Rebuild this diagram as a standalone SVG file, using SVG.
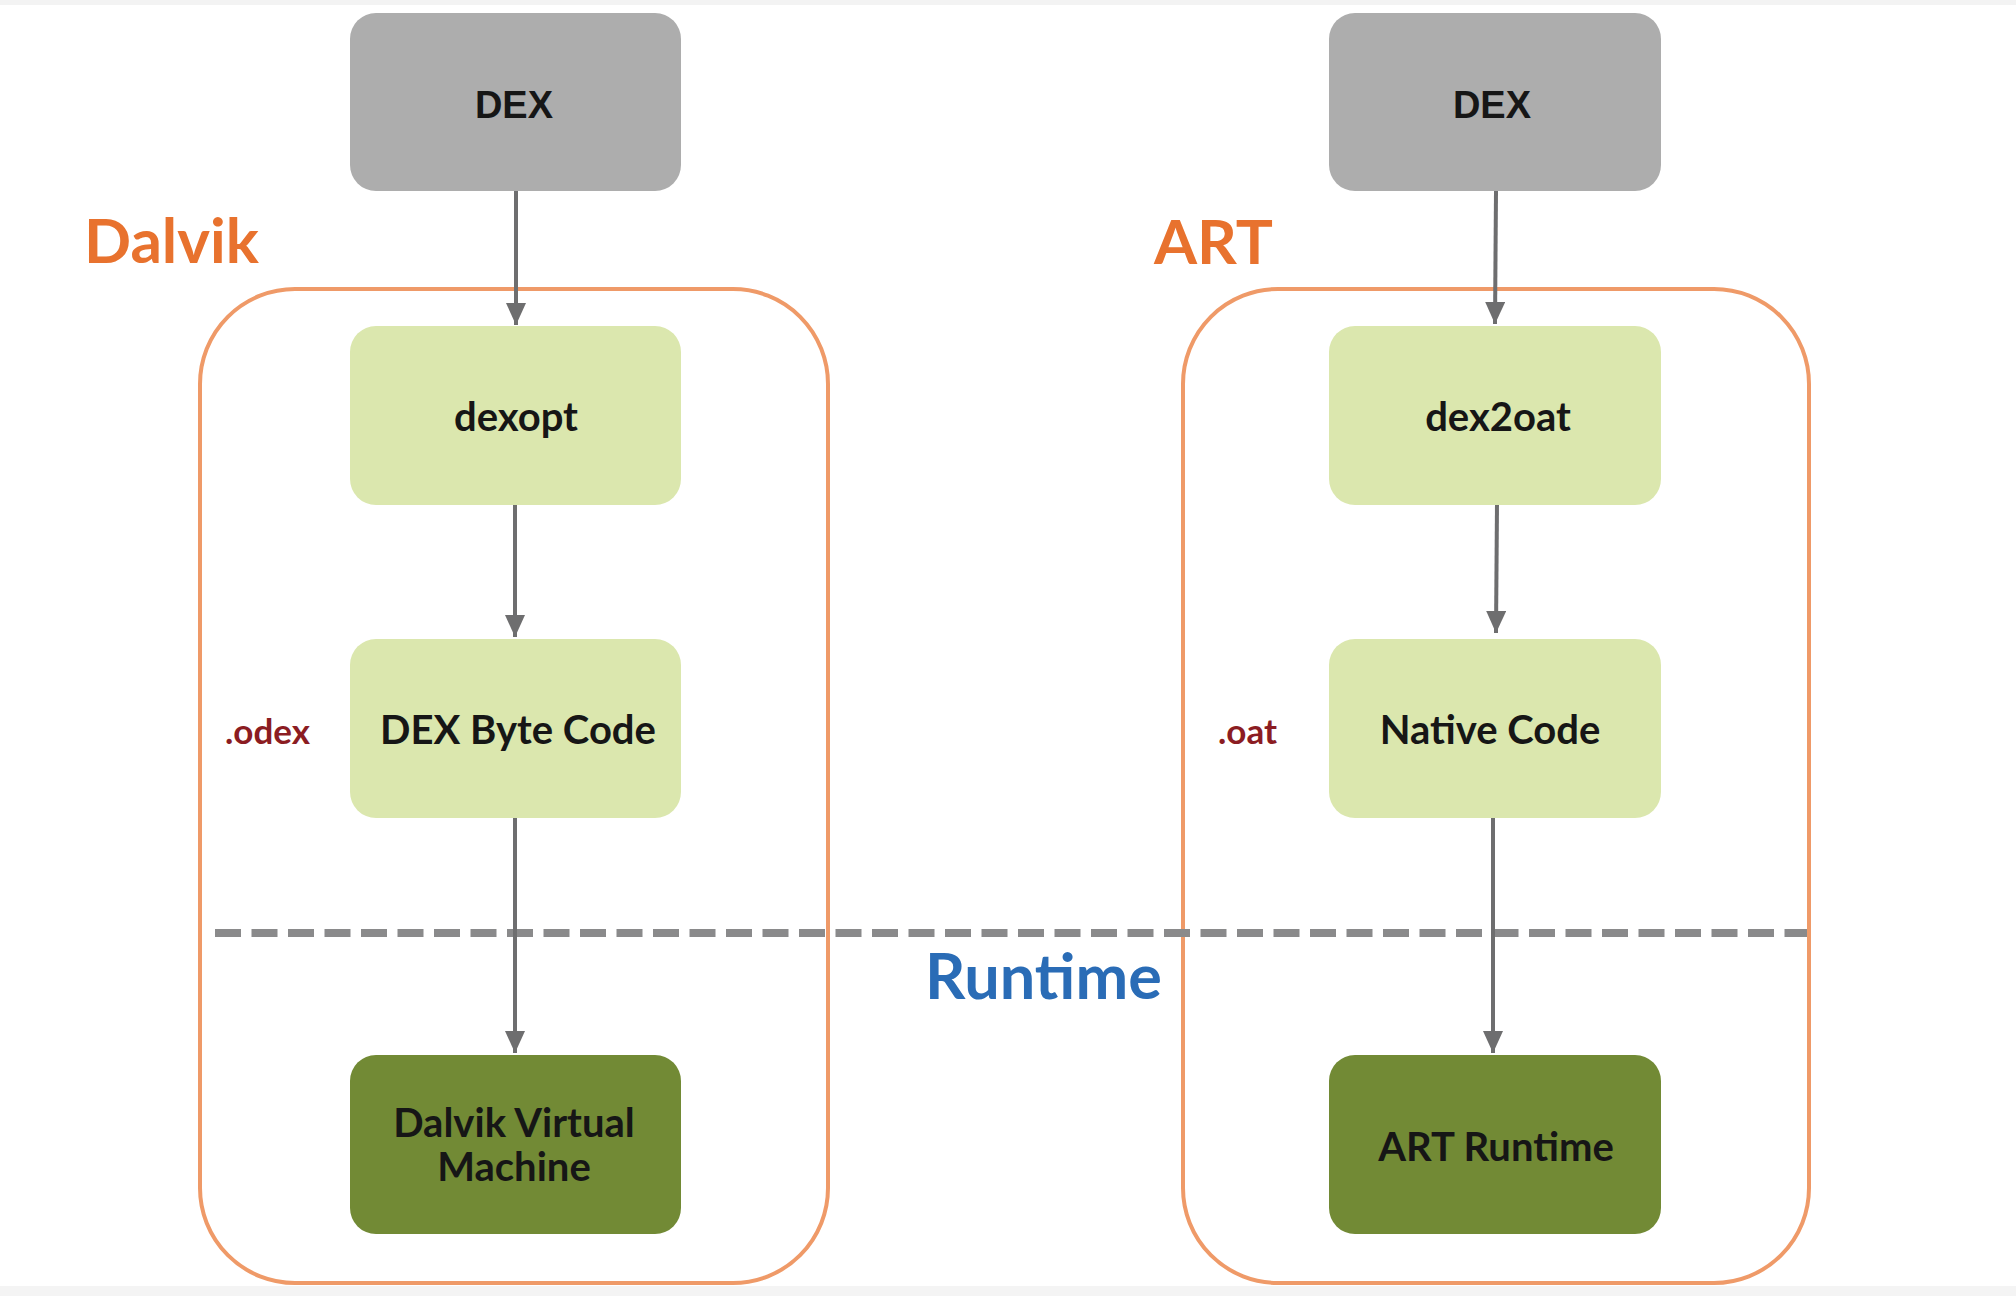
<svg xmlns="http://www.w3.org/2000/svg" width="2016" height="1296" viewBox="0 0 2016 1296">
  <defs>
    <marker id="arrow" viewBox="0 0 22 20" refX="22" refY="10" markerWidth="22" markerHeight="20" markerUnits="userSpaceOnUse" orient="auto">
      <path d="M0,0 L22,10 L0,20 Z" fill="#6e6e6f"/>
    </marker>
    <style>
      .frame { fill: none; stroke: #ef9a68; stroke-width: 4; }
      .src { fill: #adadad; }
      .step { fill: #dbe7ae; }
      .run { fill: #728a35; }
      .lbl { font-family: Lato, "Open Sans", sans-serif; font-weight: 700; font-size: 40px; fill: #161616; text-anchor: middle; }
      .dex { font-family: "Liberation Sans", Arial, sans-serif; font-weight: 700; font-size: 38px; fill: #161616; text-anchor: middle; }
      .ext { font-family: Lato, "Open Sans", sans-serif; font-weight: 700; font-size: 35px; fill: #8b1c22; }
      .title { font-family: Lato, "Open Sans", sans-serif; font-weight: 700; font-size: 62px; fill: #e8722e; }
      .runtime { font-family: Lato, "Open Sans", sans-serif; font-weight: 700; font-size: 63px; fill: #2a6cb6; }
      .conn { stroke: #6e6e6f; stroke-width: 4; fill: none; }
      .divider { stroke: #8a8a8b; stroke-width: 8; stroke-dasharray: 26 10.5; fill: none; }
    </style>
  </defs>

  <rect x="0" y="0" width="2016" height="1296" fill="#ffffff"/>
  <rect x="0" y="0" width="2016" height="5" fill="#f3f3f3"/>
  <rect x="0" y="1286" width="2016" height="10" fill="#f4f4f4"/>

  <!-- runtime containers -->
  <g id="dalvik-frame">
    <rect class="frame" x="200" y="289" width="628" height="994" rx="95" ry="95"/>
    <text class="title" x="84" y="263">Dalvik</text>
  </g>
  <g id="art-frame">
    <rect class="frame" x="1183" y="289" width="626" height="994" rx="95" ry="95"/>
    <text class="title" x="1154" y="264">ART</text>
  </g>

  <!-- boundary between compile time and runtime -->
  <g id="runtime-divider">
    <line class="divider" x1="215" y1="933" x2="1807" y2="933"/>
    <text class="runtime" x="925" y="999">Runtime</text>
  </g>

  <g id="connectors">
    <line class="conn" x1="516" y1="191" x2="516" y2="325" marker-end="url(#arrow)"/>
    <line class="conn" x1="515" y1="505" x2="515" y2="637" marker-end="url(#arrow)"/>
    <line class="conn" x1="515" y1="818" x2="515" y2="1053" marker-end="url(#arrow)"/>
    <line class="conn" x1="1496" y1="191" x2="1495" y2="324" marker-end="url(#arrow)"/>
    <line class="conn" x1="1497" y1="503" x2="1496" y2="633" marker-end="url(#arrow)"/>
    <line class="conn" x1="1493" y1="818" x2="1493" y2="1053" marker-end="url(#arrow)"/>
  </g>

  <!-- Dalvik pipeline -->
  <g id="dalvik-dex">
    <rect class="src" x="350" y="13" width="331" height="178" rx="26"/>
    <text class="dex" x="514" y="118">DEX</text>
  </g>
  <g id="dexopt">
    <rect class="step" x="350" y="326" width="331" height="179" rx="26"/>
    <text class="lbl" x="516" y="431">dexopt</text>
  </g>
  <g id="dex-byte-code">
    <rect class="step" x="350" y="639" width="331" height="179" rx="26"/>
    <text class="lbl" x="518" y="744">DEX Byte Code</text>
    <text class="ext" x="225" y="744">.odex</text>
  </g>
  <g id="dalvik-vm">
    <rect class="run" x="350" y="1055" width="331" height="179" rx="26"/>
    <text class="lbl" x="514" y="1137">Dalvik Virtual</text>
    <text class="lbl" x="514" y="1181">Machine</text>
  </g>

  <!-- ART pipeline -->
  <g id="art-dex">
    <rect class="src" x="1329" y="13" width="332" height="178" rx="26"/>
    <text class="dex" x="1492" y="118">DEX</text>
  </g>
  <g id="dex2oat">
    <rect class="step" x="1329" y="326" width="332" height="179" rx="26"/>
    <text class="lbl" x="1498" y="431">dex2oat</text>
  </g>
  <g id="native-code">
    <rect class="step" x="1329" y="639" width="332" height="179" rx="26"/>
    <text class="lbl" x="1490" y="744">Native Code</text>
    <text class="ext" x="1218" y="744">.oat</text>
  </g>
  <g id="art-runtime">
    <rect class="run" x="1329" y="1055" width="332" height="179" rx="26"/>
    <text class="lbl" x="1496" y="1161">ART Runtime</text>
  </g>
</svg>
